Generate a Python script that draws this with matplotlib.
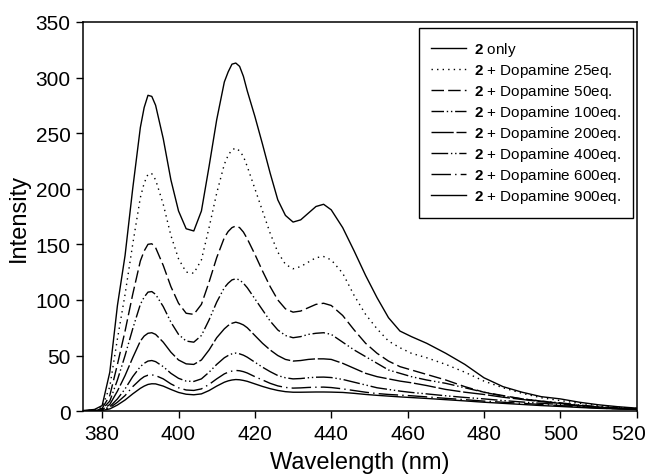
import matplotlib
matplotlib.use("Agg")
import matplotlib.pyplot as plt
import matplotlib.transforms as mtransforms

plt.rcParams['font.family'] = ['Liberation Sans', 'DejaVu Sans']
plt.rcParams['mathtext.fontset'] = 'custom'
plt.rcParams['mathtext.bf'] = 'Liberation Sans:bold'
plt.rcParams['mathtext.rm'] = 'Liberation Sans'

# wavelength grid (nm)
wl = [375, 378, 380, 382, 384, 386, 388, 390, 391, 392, 393, 394, 396, 398, 400, 402, 404,
      406, 408, 410, 412, 413, 414, 415, 416, 417, 418, 420, 422, 424, 426, 428, 430, 432, 434,
      436, 438, 440, 443, 446, 449, 452, 455, 458, 461, 465, 470, 475, 480, 485,
      490, 495, 500, 505, 510, 515, 520]

only = [0.5, 1.5, 5, 35, 95, 140, 200, 255, 273, 284, 283, 275, 245, 208, 180, 164, 162,
        180, 220, 262, 296, 305, 312, 313, 310, 301, 288, 265, 240, 214, 190, 176, 170, 172, 178,
        184, 186, 181, 165, 144, 122, 102, 84, 72, 67, 61, 52, 42, 30, 22,
        17, 13, 11, 8, 5.7, 4, 2.7]
eq25 = [0.4, 1.2, 3.5, 22, 65, 105, 150, 192, 205, 213, 213.5, 208, 186, 158, 137, 125, 124,
        136, 165, 196, 222, 230, 235, 236.5, 234, 229, 220, 200, 180, 160, 143, 132, 128, 130, 134,
        138, 139, 136, 124, 104, 87, 74, 63, 57, 52, 48, 42, 35, 27, 21,
        16, 12, 9.5, 7, 5, 3.5, 2.5]
eq50 = [0.3, 0.9, 2.5, 14, 42, 72, 105, 135, 144, 150, 150.5, 147, 131, 112, 97, 88, 87,
        96, 116, 138, 156, 161.5, 165, 166.5, 165, 161, 155, 141, 126, 112, 100, 92, 89, 90, 93,
        96, 97, 95, 86, 73, 61, 52, 45, 40, 37, 33, 28, 22, 17, 14,
        11, 9, 7, 5, 3.5, 2.5, 2]
eq100 = [0.2, 0.6, 1.8, 9, 28, 50, 74, 96, 102.5, 107, 107.5, 105, 94, 80, 69, 63, 62,
         68, 82, 98, 111, 115, 118, 119, 118, 115, 111, 101, 91, 81, 73, 68, 66, 67, 69,
         70, 70.5, 69, 62, 55, 49, 43, 37, 34, 31, 28, 25, 21, 17, 13.5,
         11, 9, 7.5, 5.5, 4, 3, 2]
eq200 = [0.2, 0.5, 1.3, 6, 18, 32, 48, 63, 67.5, 70, 70.5, 69, 62, 53, 46, 42.5, 42,
         46, 55, 66, 74, 77, 79, 80, 79, 77.5, 75, 68, 61, 55, 50, 46.5, 45, 45.5, 46.5,
         47, 47, 46.5, 43, 38.5, 34, 31, 29, 27, 25.5, 23, 19.5, 17, 15, 12.5,
         10.5, 8.5, 7, 5, 3.5, 2.5, 2]
eq400 = [0.1, 0.4, 1, 4, 11, 20, 31, 40, 43, 45, 45.5, 44.5, 40, 34, 29.5, 27, 26.7,
         29, 35, 42, 48, 50, 51.5, 52.2, 51.5, 50.3, 48.5, 44, 39.5, 35.5, 32, 30, 29, 29.3, 30,
         30.5, 30.6, 30.2, 28.5, 26, 23.5, 21, 19.5, 18, 16.8, 15.5, 13.8, 12.3, 11, 9.5,
         8.2, 7, 6, 4.5, 3.3, 2.5, 2]
eq600 = [0.1, 0.3, 0.8, 3, 8, 14, 22, 28.5, 31, 32.3, 32.6, 32, 29, 24.5, 21, 19, 18.6,
         20, 24, 29, 33.5, 35, 36, 36.6, 36.3, 35.5, 34.3, 31, 28, 25, 22.7, 21.3, 20.7, 20.9, 21.3,
         21.5, 21.6, 21.2, 20, 18.5, 17, 15.8, 15, 14.4, 13.8, 12.8, 11.5, 10.3, 9, 8,
         7, 6, 5, 3.8, 2.8, 2, 1.5]
eq900 = [0.1, 0.3, 0.6, 2, 5.5, 10, 15.5, 20.5, 22.5, 24, 24.6, 24.5, 22.5, 19.5, 16.8, 15.2, 14.7,
         15.5, 18.5, 22.5, 26, 27.2, 28, 28.4, 28.2, 27.6, 26.8, 24.5, 22.2, 20.2, 18.6, 17.5, 17, 17, 17.1,
         17.2, 17.2, 17.1, 16.8, 16, 15, 14.2, 13.5, 12.8, 12.2, 11.4, 10.3, 9.2, 8, 7,
         6, 5, 4.2, 3.3, 2.5, 2, 1.5]

series = [only, eq25, eq50, eq100, eq200, eq400, eq600, eq900]
labels = [r'$\mathbf{2}$ only',
          r'$\mathbf{2}$ + Dopamine 25eq.',
          r'$\mathbf{2}$ + Dopamine 50eq.',
          r'$\mathbf{2}$ + Dopamine 100eq.',
          r'$\mathbf{2}$ + Dopamine 200eq.',
          r'$\mathbf{2}$ + Dopamine 400eq.',
          r'$\mathbf{2}$ + Dopamine 600eq.',
          r'$\mathbf{2}$ + Dopamine 900eq.']
styles = ['-', (0, (1, 3)), (0, (9, 3)), (0, (9, 2, 1, 2, 1, 2)),
          (0, (16, 2)), (0, (12, 2, 1, 2, 1, 2)), (0, (14, 3, 1, 3)), '-']

fig = plt.figure(figsize=(6.49, 4.77), dpi=100)
ax = fig.add_axes([0.128, 0.136, 0.853, 0.816])

for y, lab, ls in zip(series, labels, styles):
    ax.plot(wl, y, color='black', linestyle=ls, linewidth=1.0, label=lab)

ax.set_xlim(375, 520)
ax.set_ylim(0, 350)
ax.set_xticks(range(380, 521, 20))
ax.set_yticks(range(0, 351, 50))
ax.tick_params(direction='out', length=5, width=1, labelsize=15, pad=4)
for s in ax.spines.values():
    s.set_linewidth(1.1)

# last x label sits a bit left so it stays inside the figure
last = ax.get_xticklabels()[-1]
last.set_transform(last.get_transform() +
                   mtransforms.ScaledTranslation(-8 / 100, 0, fig.dpi_scale_trans))

ax.set_xlabel('Wavelength (nm)', fontsize=17, labelpad=6)
ax.set_ylabel('Intensity', fontsize=17, labelpad=4)

leg = ax.legend(loc='upper right', bbox_to_anchor=(0.993, 0.985), fontsize=11,
                frameon=True, fancybox=False, edgecolor='black', framealpha=1,
                handlelength=2.3, labelspacing=0.2, borderpad=0.8, handletextpad=0.5,
                borderaxespad=0)
leg.get_frame().set_linewidth(1.0)

fig.savefig('out.png', dpi=100)
